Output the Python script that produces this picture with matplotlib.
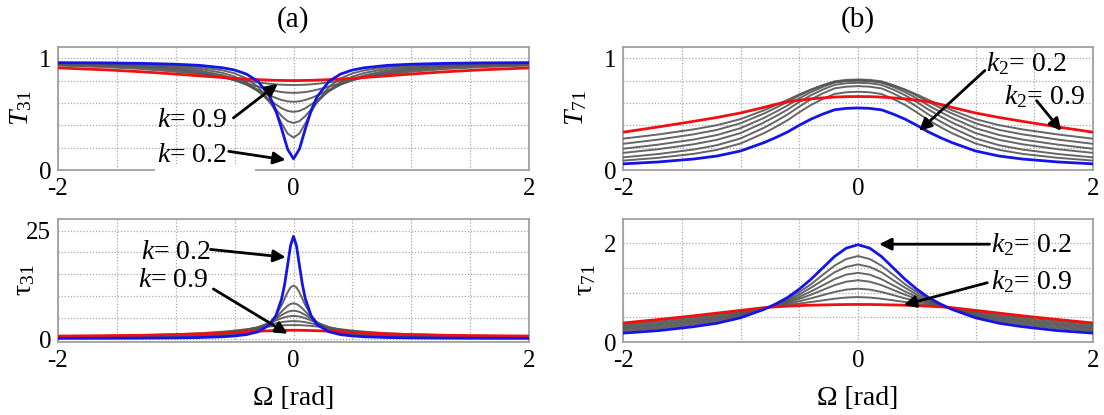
import numpy as np
import matplotlib
matplotlib.use("Agg")
import matplotlib.pyplot as plt
from matplotlib.patches import Rectangle

plt.rcParams['font.family'] = ['Liberation Serif', 'DejaVu Serif']
plt.rcParams['mathtext.fontset'] = 'custom'
plt.rcParams['mathtext.rm'] = 'Liberation Serif'
plt.rcParams['mathtext.it'] = 'Liberation Serif:italic'

# ---------------- data (half curves, x >= 0; curves are symmetric) -------------
k_values = [0.2, 0.3, 0.4, 0.5, 0.6, 0.7, 0.8, 0.9]

# (a) T31
x_T31 = [0, 0.05, 0.1, 0.15, 0.2, 0.3, 0.4, 0.5, 0.6, 0.8, 1.0, 1.3, 1.6, 2.0]
T31_k02 = [0.100, 0.186, 0.366, 0.533, 0.654, 0.792, 0.858, 0.894, 0.914, 0.936, 0.946, 0.954, 0.958, 0.960]
T31_k03 = [0.290, 0.326, 0.415, 0.518, 0.611, 0.743, 0.819, 0.864, 0.891, 0.921, 0.936, 0.948, 0.954, 0.958]
T31_k04 = [0.420, 0.437, 0.482, 0.542, 0.604, 0.711, 0.786, 0.835, 0.868, 0.906, 0.925, 0.941, 0.949, 0.955]
T31_k05 = [0.520, 0.528, 0.552, 0.586, 0.625, 0.702, 0.766, 0.813, 0.847, 0.890, 0.914, 0.933, 0.943, 0.951]
T31_k06 = [0.610, 0.614, 0.626, 0.644, 0.666, 0.716, 0.763, 0.802, 0.834, 0.877, 0.903, 0.926, 0.938, 0.947]
T31_k07 = [0.690, 0.692, 0.697, 0.706, 0.718, 0.745, 0.775, 0.803, 0.828, 0.866, 0.892, 0.917, 0.931, 0.942]
T31_k08 = [0.760, 0.761, 0.763, 0.766, 0.771, 0.783, 0.797, 0.813, 0.828, 0.856, 0.879, 0.904, 0.920, 0.934]
T31_k09 = [0.800, 0.800, 0.801, 0.802, 0.804, 0.808, 0.813, 0.820, 0.827, 0.842, 0.858, 0.879, 0.896, 0.913]

# (a) tau31
x_tau31 = [0, 0.025, 0.05, 0.075, 0.1, 0.15, 0.2, 0.3, 0.4, 0.5, 0.6, 0.8, 1.0, 1.3, 1.6, 2.0]
tau31_k02 = [23.7, 21.6, 17.1, 12.7, 9.4, 5.4, 3.4, 1.76, 1.10, 0.79, 0.61, 0.43, 0.35, 0.29, 0.26, 0.24]
tau31_k03 = [12.4, 11.97, 10.84, 9.38, 7.9, 5.49, 3.89, 2.21, 1.46, 1.07, 0.84, 0.61, 0.50, 0.42, 0.38, 0.35]
tau31_k04 = [8.3, 8.15, 7.73, 7.12, 6.43, 5.04, 3.91, 2.45, 1.69, 1.26, 1.01, 0.73, 0.60, 0.50, 0.45, 0.41]
tau31_k05 = [6.6, 6.53, 6.32, 6.0, 5.61, 4.75, 3.93, 2.70, 1.94, 1.48, 1.19, 0.87, 0.71, 0.59, 0.53, 0.48]
tau31_k06 = [5.4, 5.36, 5.26, 5.09, 4.87, 4.36, 3.80, 2.84, 2.16, 1.70, 1.39, 1.02, 0.83, 0.68, 0.61, 0.55]
tau31_k07 = [4.2, 4.18, 4.14, 4.06, 3.96, 3.70, 3.40, 2.78, 2.26, 1.85, 1.56, 1.18, 0.97, 0.79, 0.70, 0.63]
tau31_k08 = [3.3, 3.29, 3.28, 3.25, 3.21, 3.10, 2.97, 2.65, 2.33, 2.03, 1.78, 1.41, 1.17, 0.95, 0.83, 0.74]
tau31_k09 = [2.1, 2.10, 2.09, 2.08, 2.07, 2.04, 1.99, 1.88, 1.75, 1.61, 1.49, 1.27, 1.11, 0.95, 0.85, 0.77]

# (b) T71
x_b = [0, 0.1, 0.2, 0.3, 0.4, 0.5, 0.6, 0.7, 0.8, 1.0, 1.2, 1.4, 1.7, 2.0]
T71_k02 = [0.555, 0.551, 0.538, 0.500, 0.455, 0.400, 0.340, 0.290, 0.245, 0.170, 0.125, 0.098, 0.072, 0.055]
T71_k03 = [0.700, 0.695, 0.680, 0.635, 0.582, 0.516, 0.445, 0.385, 0.329, 0.237, 0.180, 0.144, 0.109, 0.084]
T71_k04 = [0.750, 0.745, 0.730, 0.685, 0.632, 0.567, 0.496, 0.435, 0.378, 0.282, 0.222, 0.183, 0.143, 0.113]
T71_k05 = [0.780, 0.776, 0.761, 0.719, 0.669, 0.608, 0.540, 0.481, 0.425, 0.330, 0.270, 0.230, 0.186, 0.153]
T71_k06 = [0.800, 0.796, 0.782, 0.743, 0.697, 0.640, 0.577, 0.520, 0.466, 0.374, 0.313, 0.272, 0.227, 0.190]
T71_k07 = [0.810, 0.806, 0.793, 0.759, 0.717, 0.665, 0.609, 0.556, 0.505, 0.418, 0.359, 0.319, 0.272, 0.234]
T71_k08 = [0.800, 0.797, 0.785, 0.756, 0.720, 0.676, 0.627, 0.580, 0.534, 0.455, 0.401, 0.363, 0.318, 0.280]
T71_k09 = [0.657, 0.656, 0.652, 0.645, 0.636, 0.624, 0.610, 0.588, 0.560, 0.510, 0.470, 0.435, 0.385, 0.338]

# (b) tau71
tau71_k02 = [1.97, 1.90, 1.73, 1.50, 1.27, 1.07, 0.90, 0.77, 0.66, 0.49, 0.38, 0.31, 0.23, 0.18]
tau71_k03 = [1.74, 1.68, 1.545, 1.36, 1.17, 1.01, 0.867, 0.759, 0.667, 0.519, 0.419, 0.352, 0.273, 0.219]
tau71_k04 = [1.57, 1.52, 1.41, 1.25, 1.10, 0.96, 0.842, 0.751, 0.672, 0.540, 0.448, 0.383, 0.304, 0.248]
tau71_k05 = [1.40, 1.364, 1.272, 1.147, 1.023, 0.913, 0.818, 0.743, 0.676, 0.561, 0.476, 0.413, 0.336, 0.276]
tau71_k06 = [1.25, 1.221, 1.15, 1.054, 0.958, 0.872, 0.796, 0.735, 0.681, 0.579, 0.502, 0.441, 0.364, 0.302]
tau71_k07 = [1.08, 1.061, 1.013, 0.949, 0.884, 0.825, 0.771, 0.727, 0.686, 0.600, 0.531, 0.472, 0.395, 0.331]
tau71_k08 = [0.91, 0.90, 0.876, 0.843, 0.81, 0.778, 0.747, 0.719, 0.691, 0.621, 0.560, 0.503, 0.427, 0.360]
tau71_k09 = [0.76, 0.759, 0.755, 0.75, 0.745, 0.737, 0.725, 0.712, 0.695, 0.64, 0.585, 0.53, 0.455, 0.385]

T31_sets = [T31_k02, T31_k03, T31_k04, T31_k05, T31_k06, T31_k07, T31_k08, T31_k09]
tau31_sets = [tau31_k02, tau31_k03, tau31_k04, tau31_k05, tau31_k06, tau31_k07, tau31_k08, tau31_k09]
T71_sets = [T71_k02, T71_k03, T71_k04, T71_k05, T71_k06, T71_k07, T71_k08, T71_k09]
tau71_sets = [tau71_k02, tau71_k03, tau71_k04, tau71_k05, tau71_k06, tau71_k07, tau71_k08, tau71_k09]


def mirror_x(xh):
    xh = np.asarray(xh, float)
    return np.concatenate([-xh[:0:-1], xh])


def mirror_y(yh):
    yh = np.asarray(yh, float)
    return np.concatenate([yh[:0:-1], yh])


# ---------------- figure ----------------
W, H = 1104, 415
fig = plt.figure(figsize=(W / 100, H / 100), dpi=100)


def px_axes(x0, y0, x1, y1):
    return fig.add_axes([x0 / W, 1 - y1 / H, (x1 - x0) / W, (y1 - y0) / H])


ax_a1 = px_axes(58, 47, 529, 170)
ax_a2 = px_axes(58, 219, 529, 342)
ax_b1 = px_axes(623, 47, 1093, 170)
ax_b2 = px_axes(623, 219, 1093, 342)

GRAY = '#555555'
BLUE = '#1414e6'
RED = '#f01010'
TICK_FS = 18


def draw(ax, xh, sets):
    x = mirror_x(xh)
    for ys in sets[1:-1]:
        ax.plot(x, mirror_y(ys), color=GRAY, lw=1.4, alpha=0.9, zorder=3)
    ax.plot(x, mirror_y(sets[-1]), color=RED, lw=2.0, zorder=4)
    ax.plot(x, mirror_y(sets[0]), color=BLUE, lw=2.0, zorder=5)


def style(ax, yticks, ylabels, ylim):
    ax.set_xlim(-2, 2)
    ax.set_ylim(*ylim)
    xt = [-2, -1.5, -1, -0.5, 0, 0.5, 1, 1.5, 2]
    ax.set_xticks(xt)
    ax.set_xticklabels(['-2', '', '', '', '0', '', '', '', '2'], fontsize=TICK_FS)
    ax.set_yticks(yticks)
    ax.set_yticklabels(ylabels, fontsize=TICK_FS)
    ax.tick_params(axis='x', length=0, pad=6)
    ax.tick_params(axis='y', length=0, pad=5)
    ax.grid(True, color='#a8a8a8', lw=0.9, ls=(0, (1, 1.5)))
    ax.set_axisbelow(True)
    for s in ax.spines.values():
        s.set_color('#a0a0a0')
        s.set_linewidth(1.3)


draw(ax_a1, x_T31, T31_sets)
draw(ax_a2, x_tau31, tau31_sets)
draw(ax_b1, x_b, T71_sets)
draw(ax_b2, x_b, tau71_sets)

style(ax_a1, [0, 0.2, 0.4, 0.6, 0.8, 1.0], ['0', '', '', '', '', '1'], (0, 1.1))
style(ax_b1, [0, 0.2, 0.4, 0.6, 0.8, 1.0], ['0', '', '', '', '', '1'], (0, 1.1))
style(ax_a2, [0, 5, 10, 15, 20, 25], ['0', '', '', '', '', '25'], (-0.6, 27.7))
style(ax_b2, [0, 0.5, 1.0, 1.5, 2.0], ['0', '', '', '', '2'], (0, 2.49))

LAB_FS = 20
ax_a1.set_ylabel('$T_{31}$', fontsize=LAB_FS)
ax_a2.set_ylabel('τ$_{31}$', fontsize=LAB_FS)
ax_b1.set_ylabel('$T_{71}$', fontsize=LAB_FS)
ax_b2.set_ylabel('τ$_{71}$', fontsize=LAB_FS)
ax_a1.yaxis.set_label_coords(-0.05, 0.5)
ax_a2.yaxis.set_label_coords(-0.045, 0.5)
ax_b1.yaxis.set_label_coords(-0.072, 0.5)
ax_b2.yaxis.set_label_coords(-0.052, 0.5)

for ax in (ax_a2, ax_b2):
    ax.set_xlabel('Ω [rad]', fontsize=LAB_FS)
    ax.xaxis.set_label_coords(0.5, -0.36)

ax_a1.text(0.5, 1.22, '(a)', transform=ax_a1.transAxes, ha='center', va='center', fontsize=21)
ax_b1.text(0.5, 1.22, '(b)', transform=ax_b1.transAxes, ha='center', va='center', fontsize=21)

ANN_FS = 20
arrow = dict(arrowstyle='-|>', color='black', lw=2.0, mutation_scale=18, shrinkA=0, shrinkB=0)

# (a) top
ax_a1.add_patch(Rectangle((-1.18, -0.03), 0.85, 0.08, facecolor='white', edgecolor='none',
                          zorder=6, clip_on=False))
ax_a1.text(-0.56, 0.44, '$k$= 0.9', fontsize=ANN_FS, ha='right', va='center', zorder=7)
ax_a1.annotate('', xy=(-0.134, 0.77), xytext=(-0.51, 0.466), arrowprops=arrow, zorder=8)
ax_a1.text(-0.56, 0.128, '$k$= 0.2', fontsize=ANN_FS, ha='right', va='center', zorder=7)
ax_a1.annotate('', xy=(-0.067, 0.09), xytext=(-0.55, 0.167), arrowprops=arrow, zorder=8)

# (a) bottom
ax_a2.text(-0.70, 20.0, '$k$= 0.2', fontsize=ANN_FS, ha='right', va='center', zorder=7)
ax_a2.annotate('', xy=(-0.067, 18.9), xytext=(-0.705, 20.7), arrowprops=arrow, zorder=8)
ax_a2.text(-0.72, 13.6, '$k$= 0.9', fontsize=ANN_FS, ha='right', va='center', zorder=7)
ax_a2.annotate('', xy=(-0.05, 1.3), xytext=(-0.68, 11.6), arrowprops=arrow, zorder=8)

# (b) top
ax_b1.text(1.09, 0.95, '$k_2$= 0.2', fontsize=ANN_FS, ha='left', va='center', zorder=7)
ax_b1.annotate('', xy=(0.52, 0.35), xytext=(1.08, 0.89), arrowprops=arrow, zorder=8)
ax_b1.text(1.24, 0.66, '$k_2$= 0.9', fontsize=ANN_FS, ha='left', va='center', zorder=7)
ax_b1.annotate('', xy=(1.73, 0.35), xytext=(1.52, 0.62), arrowprops=arrow, zorder=8)

# (b) bottom
ax_b2.text(1.13, 1.97, '$k_2$= 0.2', fontsize=ANN_FS, ha='left', va='center', zorder=7)
ax_b2.annotate('', xy=(0.18, 1.98), xytext=(1.12, 1.98), arrowprops=arrow, zorder=8)
ax_b2.text(1.13, 1.22, '$k_2$= 0.9', fontsize=ANN_FS, ha='left', va='center', zorder=7)
ax_b2.annotate('', xy=(0.39, 0.75), xytext=(1.10, 1.2), arrowprops=arrow, zorder=8)

fig.savefig('out.png', dpi=100)
